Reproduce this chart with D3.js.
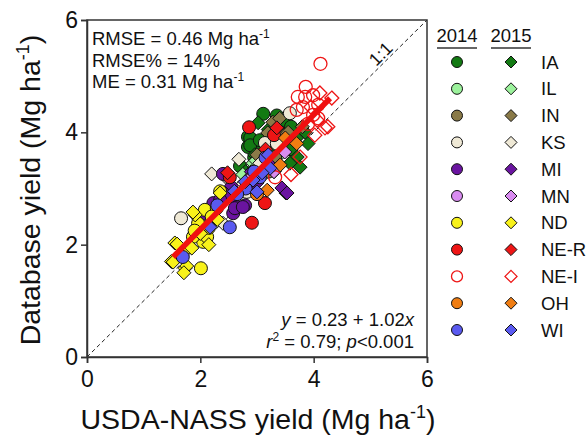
<!DOCTYPE html>
<html>
<head>
<meta charset="utf-8">
<script src="https://cdn.jsdelivr.net/npm/d3@7"></script>
<style>
  body { margin: 0; background: #fff; }
  text { font-family: "Liberation Sans", Arial, sans-serif; fill: #111; }
</style>
</head>
<body>
<svg></svg>
<script>
let width = 587, height = 435;

// states in legend order
let states = ["IA", "IL", "IN", "KS", "MI", "MN", "ND", "NE-R", "NE-I", "OH", "WI"];
let fills = ["#137a13", "#9cf29c", "#8a7a48", "#efe9d6", "#6a14a0", "#d98cf0", "#f8f21a", "#ee1515", "none", "#f07d12", "#5a5af0"];
let years = ["2014", "2015"];
let ticks = [0, 2, 4, 6];

// [USDA-NASS yield, Database yield]
let ia14 = [[3.11,4.33],[2.84,3.92],[3.02,3.83],[2.84,3.74],[3.05,3.72],[3.46,4.18],[3.41,4.0],[2.88,3.9],[2.88,3.77],[3.05,3.86],[3.46,3.81],[3.64,3.92],[3.3,3.65],[3.55,3.7],[3.2,3.5],[2.95,3.55],[3.6,4.1],[2.7,3.4],[3.35,4.3]];
let ia15 = [[3.02,4.17],[2.96,3.6],[3.71,3.56],[3.58,3.45],[3.76,3.38],[3.51,2.92],[3.4,3.8],[3.7,3.9],[3.85,4.0],[3.3,3.3],[2.8,3.3],[3.6,3.7],[3.9,3.8],[3.2,4.05]];
let il14 = [[3.1,3.45],[2.95,3.35]];
let il15 = [[2.93,3.45],[2.98,3.5],[3.35,3.55],[2.75,3.25]];
let in14 = [[3.32,3.56],[3.2,3.3],[3.5,3.95],[2.9,3.2]];
let in15 = [[3.19,3.99],[3.28,4.18],[3.4,4.25],[3.55,4.0],[3.0,3.6],[3.8,4.1]];
let ks14 = [[1.66,2.47],[3.14,3.81],[3.58,4.34],[2.82,2.94],[3.35,3.8],[2.75,3.05]];
let ks15 = [[2.2,3.26],[2.68,3.52],[2.4,2.38],[2.5,3.15],[3.05,3.45],[1.98,2.45]];
let mi14 = [[2.23,2.74],[2.4,3.26],[2.58,2.85],[2.65,2.67],[2.79,2.7],[2.58,2.56],[2.61,2.65],[2.75,2.67],[2.52,2.94],[2.45,2.9],[2.9,3.1],[2.1,2.55],[2.35,2.8]];
let mi15 = [[3.44,3.01],[3.53,2.92],[2.9,3.3],[3.0,3.1],[2.55,3.05],[3.25,3.4]];
let mn14 = [[2.95,3.25]];
let mn15 = [[3.49,3.65],[3.3,3.3],[2.85,3.15]];
let nd14 = [[2.01,1.58],[2.05,2.05],[1.87,2.14],[2.12,2.14],[1.96,2.38],[2.08,2.62],[2.29,2.65],[2.2,2.5],[1.8,1.95],[2.15,2.3],[2.35,2.95],[1.9,2.25]];
let nd15 = [[1.91,2.53],[1.55,2.03],[1.49,1.7],[1.73,1.58],[1.76,1.62],[1.85,1.94],[2.35,2.92],[1.87,2.58],[1.59,2.01],[1.52,1.69],[1.71,1.5],[2.0,2.2],[2.15,2.0],[1.65,1.8],[2.3,2.45]];
let ner14 = [[2.86,4.09],[3.14,2.74],[2.91,2.39],[2.52,3.2],[3.3,3.95]];
let ner15 = [[2.48,3.28],[3.35,4.08],[3.15,3.7]];
let nei14 = [[4.12,5.22],[3.86,4.81],[3.99,4.66],[3.72,4.63],[3.81,4.45],[4.08,4.49],[3.85,4.63],[3.99,4.31],[4.08,4.25],[3.7,4.4],[3.32,3.2],[3.9,4.15]];
let nei15 = [[4.11,4.7],[4.32,4.61],[4.2,4.08],[4.02,3.95],[4.06,4.22],[4.25,4.1],[3.76,3.56],[3.95,4.45],[3.6,3.25]];
let oh14 = [[3.0,2.9]];
let oh15 = [[3.18,2.97],[3.41,3.42],[3.7,3.8],[3.5,3.9]];
let wi14 = [[1.69,1.78],[2.52,2.31],[2.8,3.0],[2.95,3.3],[2.65,2.9],[3.15,3.55],[2.3,2.7],[3.05,3.2]];
let wi15 = [[2.17,2.31],[2.79,3.12],[2.93,3.15],[3.0,2.94],[3.23,3.36],[3.09,3.28],[2.6,2.95],[3.2,3.6]];

let series2014 = [ia14, il14, in14, ks14, mi14, mn14, nd14, ner14, nei14, oh14, wi14];
let series2015 = [ia15, il15, in15, ks15, mi15, mn15, nd15, ner15, nei15, oh15, wi15];

// fit line y = 0.23 + 1.02x over the data range
let fitA = 0.23, fitB = 1.02, fitRange = [1.52, 4.29];

let svg = d3.select("svg")
    .attr("width", width)
    .attr("height", height);

let x = d3.scaleLinear().domain([0, 6]).range([87, 427]);
let y = d3.scaleLinear().domain([0, 6]).range([357, 20]);

function diamond(r) {
    return "M0," + (-r) + "L" + r + ",0L0," + r + "L" + (-r) + ",0Z";
}

// 1:1 line
svg.append("line")
    .attr("x1", x(0)).attr("y1", y(0))
    .attr("x2", x(6)).attr("y2", y(6))
    .attr("stroke", "#222")
    .attr("stroke-width", 1)
    .attr("stroke-dasharray", "4,3");

svg.append("text")
    .attr("transform", "translate(" + x(5.18) + "," + y(5.4) + ") rotate(-45)")
    .attr("text-anchor", "middle")
    .attr("dy", "0.35em")
    .style("font-size", "18px")
    .text("1:1");

// points
let pts = svg.append("g").attr("id", "points");
states.forEach((s, i) => {
    let open = s === "NE-I";
    pts.append("g").selectAll("circle")
        .data(series2014[i])
        .enter()
        .append("circle")
        .attr("cx", d => x(d[0]))
        .attr("cy", d => y(d[1]))
        .attr("r", 6.5)
        .style("fill", open ? "none" : fills[i])
        .style("stroke", open ? "#ee1515" : "#111")
        .style("stroke-width", open ? 1.3 : 1);
    pts.append("g").selectAll("path")
        .data(series2015[i])
        .enter()
        .append("path")
        .attr("transform", d => "translate(" + x(d[0]) + "," + y(d[1]) + ")")
        .attr("d", diamond(7))
        .style("fill", open ? "none" : fills[i])
        .style("stroke", open ? "#ee1515" : "#111")
        .style("stroke-width", open ? 1.3 : 1);
});

// regression line
svg.append("line")
    .attr("x1", x(fitRange[0])).attr("y1", y(fitA + fitB * fitRange[0]))
    .attr("x2", x(fitRange[1])).attr("y2", y(fitA + fitB * fitRange[1]))
    .attr("stroke", "#f01010")
    .attr("stroke-width", 5.5);

// frame
svg.append("rect")
    .attr("x", 87).attr("y", 20)
    .attr("width", 340).attr("height", 337)
    .attr("fill", "none")
    .attr("stroke", "#333")
    .attr("stroke-width", 1.5);

// axes
let xAxis = svg.append("g")
    .attr("transform", "translate(0,357)")
    .call(d3.axisBottom(x).tickValues(ticks).tickFormat(d3.format("d")).tickSize(6).tickPadding(8));
let yAxis = svg.append("g")
    .attr("transform", "translate(87,0)")
    .call(d3.axisLeft(y).tickValues(ticks).tickFormat(d3.format("d")).tickSize(6).tickPadding(3));
[xAxis, yAxis].forEach(a => {
    a.select(".domain").attr("stroke", "#333").attr("stroke-width", 1.5);
    a.selectAll(".tick line").attr("stroke", "#333").attr("stroke-width", 1.5);
    a.selectAll(".tick text")
        .style("font-size", "23px")
        .style("font-family", "'Liberation Sans', Arial, sans-serif")
        .attr("fill", "#111");
});

// axis titles
let xt = svg.append("text")
    .attr("x", 258).attr("y", 429)
    .attr("text-anchor", "middle")
    .style("font-size", "28.5px");
xt.append("tspan").text("USDA-NASS yield (Mg ha");
xt.append("tspan").attr("dy", -11).style("font-size", "18px").text("-1");
xt.append("tspan").attr("dy", 11).text(")");

let yt = svg.append("text")
    .attr("transform", "translate(40,190) rotate(-90)")
    .attr("text-anchor", "middle")
    .style("font-size", "28.5px");
yt.append("tspan").text("Database yield (Mg ha");
yt.append("tspan").attr("dy", -11).style("font-size", "18px").text("-1");
yt.append("tspan").attr("dy", 11).text(")");

// stats, top left
let stats = [["RMSE = 0.46 Mg ha", "-1"], ["RMSE% = 14%", ""], ["ME = 0.31 Mg ha", "-1"]];
stats.forEach((s, i) => {
    let t = svg.append("text")
        .attr("x", 92).attr("y", 45 + i * 21.5)
        .style("font-size", "18.5px");
    t.append("tspan").text(s[0]);
    if (s[1]) t.append("tspan").attr("dy", -7).style("font-size", "12px").text(s[1]);
});

// equation, bottom right
let eq = svg.append("text")
    .attr("x", 414).attr("y", 326)
    .attr("text-anchor", "end")
    .style("font-size", "18.5px");
eq.append("tspan").style("font-style", "italic").text("y");
eq.append("tspan").text(" = 0.23 + 1.02");
eq.append("tspan").style("font-style", "italic").text("x");

let rr = svg.append("text")
    .attr("x", 414).attr("y", 348)
    .attr("text-anchor", "end")
    .style("font-size", "18.5px");
rr.append("tspan").style("font-style", "italic").text("r");
rr.append("tspan").attr("dy", -7).style("font-size", "12px").text("2");
rr.append("tspan").attr("dy", 7).text(" = 0.79; ");
rr.append("tspan").style("font-style", "italic").text("p");
rr.append("tspan").text("<0.001");

// legend
let legend = svg.append("g").attr("id", "legend");
let colX = [457, 511];
years.forEach((yr, j) => {
    legend.append("text")
        .attr("x", colX[j]).attr("y", 42)
        .attr("text-anchor", "middle")
        .style("font-size", "18.5px")
        .text(yr);
    legend.append("line")
        .attr("x1", colX[j] - 20).attr("x2", colX[j] + 20)
        .attr("y1", 48).attr("y2", 48)
        .attr("stroke", "#333")
        .attr("stroke-width", 1.3);
});
states.forEach((s, i) => {
    let ry = 62 + i * 26.8;
    let open = s === "NE-I";
    legend.append("circle")
        .attr("cx", colX[0]).attr("cy", ry)
        .attr("r", 5.5)
        .style("fill", open ? "none" : fills[i])
        .style("stroke", open ? "#ee1515" : "#111")
        .style("stroke-width", open ? 1.3 : 1);
    legend.append("path")
        .attr("transform", "translate(" + colX[1] + "," + ry + ")")
        .attr("d", diamond(6))
        .style("fill", open ? "none" : fills[i])
        .style("stroke", open ? "#ee1515" : "#111")
        .style("stroke-width", open ? 1.3 : 1);
    legend.append("text")
        .attr("x", 541).attr("y", ry)
        .attr("dy", "0.36em")
        .style("font-size", "18.5px")
        .text(s);
});
</script>
</body>
</html>
